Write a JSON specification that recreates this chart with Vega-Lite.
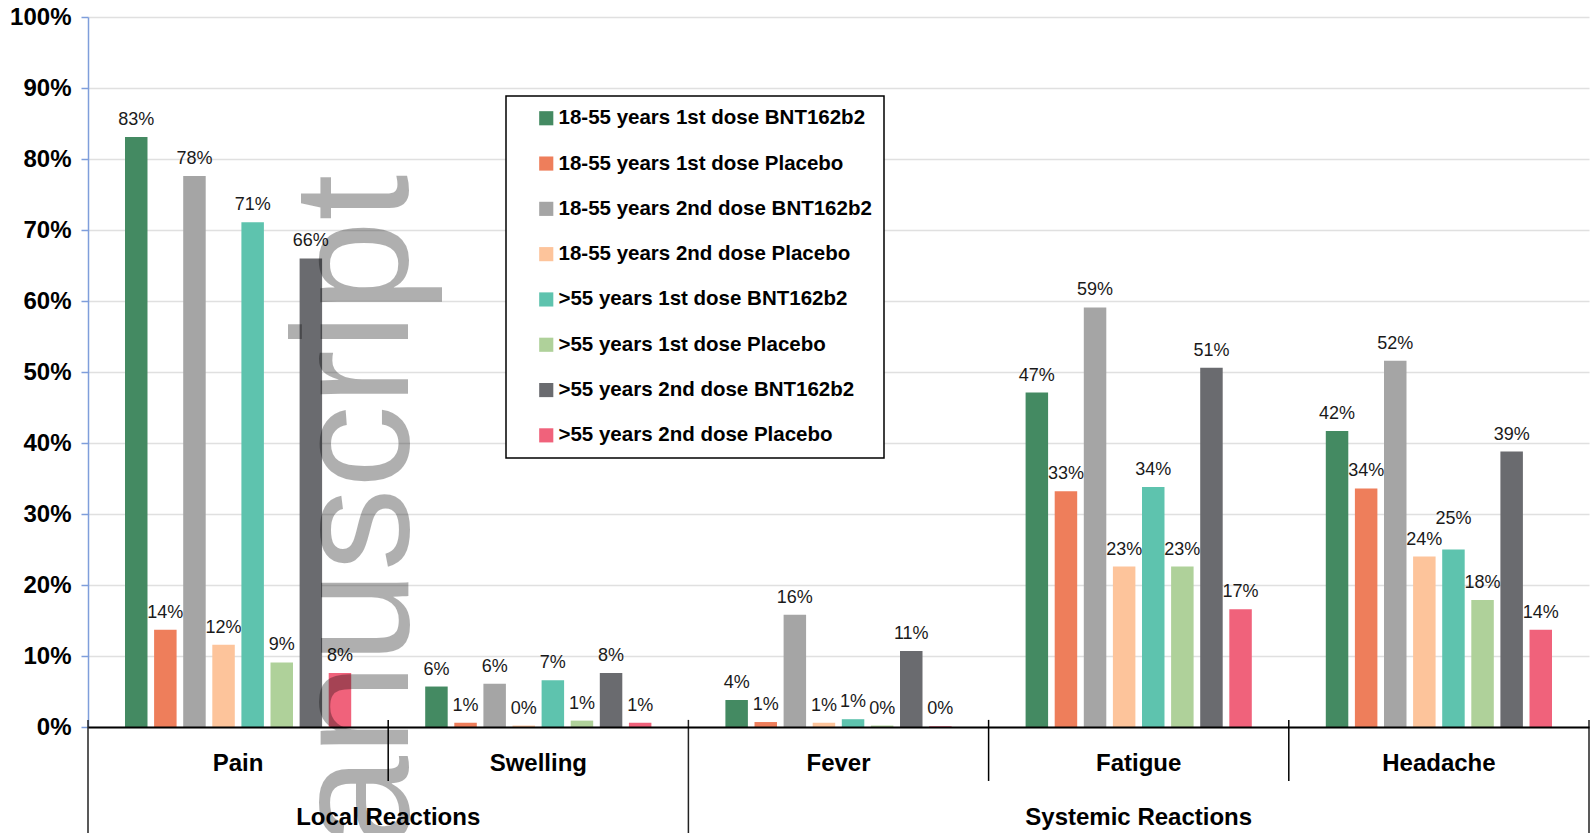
{
  "$schema": "https://vega.github.io/schema/vega-lite/v6.json",
  "width": 1501,
  "height": 710,
  "autosize": {"type": "none"},
  "padding": {"left": 88, "top": 17, "right": 2, "bottom": 106},
  "background": "white",
  "config": {
    "font": "Liberation Sans",
    "view": {"stroke": null},
    "legend": {
      "orient": "none",
      "legendX": 418,
      "legendY": 79,
      "fillColor": "white",
      "strokeColor": "black",
      "strokeWidth": 1.5,
      "padding": 12,
      "symbolOffset": 18,
      "symbolType": "square",
      "symbolSize": 200,
      "symbolStrokeWidth": 0,
      "labelFont": "Liberation Sans",
      "labelFontWeight": "bold",
      "labelFontSize": 20.5,
      "labelColor": "black",
      "labelOffset": 2,
      "labelLimit": 0,
      "rowPadding": 24.3
    }
  },
  "datasets": {
    "reactions": [
      {"symptom": "Pain", "series": "18-55 years 1st dose BNT162b2", "pct": 0.831},
      {"symptom": "Pain", "series": "18-55 years 1st dose Placebo", "pct": 0.137},
      {"symptom": "Pain", "series": "18-55 years 2nd dose BNT162b2", "pct": 0.776},
      {"symptom": "Pain", "series": "18-55 years 2nd dose Placebo", "pct": 0.116},
      {"symptom": "Pain", "series": ">55 years 1st dose BNT162b2", "pct": 0.711},
      {"symptom": "Pain", "series": ">55 years 1st dose Placebo", "pct": 0.091},
      {"symptom": "Pain", "series": ">55 years 2nd dose BNT162b2", "pct": 0.660},
      {"symptom": "Pain", "series": ">55 years 2nd dose Placebo", "pct": 0.076},
      {"symptom": "Swelling", "series": "18-55 years 1st dose BNT162b2", "pct": 0.057},
      {"symptom": "Swelling", "series": "18-55 years 1st dose Placebo", "pct": 0.006},
      {"symptom": "Swelling", "series": "18-55 years 2nd dose BNT162b2", "pct": 0.061},
      {"symptom": "Swelling", "series": "18-55 years 2nd dose Placebo", "pct": 0.002},
      {"symptom": "Swelling", "series": ">55 years 1st dose BNT162b2", "pct": 0.066},
      {"symptom": "Swelling", "series": ">55 years 1st dose Placebo", "pct": 0.009},
      {"symptom": "Swelling", "series": ">55 years 2nd dose BNT162b2", "pct": 0.076},
      {"symptom": "Swelling", "series": ">55 years 2nd dose Placebo", "pct": 0.006},
      {"symptom": "Fever", "series": "18-55 years 1st dose BNT162b2", "pct": 0.038},
      {"symptom": "Fever", "series": "18-55 years 1st dose Placebo", "pct": 0.007},
      {"symptom": "Fever", "series": "18-55 years 2nd dose BNT162b2", "pct": 0.158},
      {"symptom": "Fever", "series": "18-55 years 2nd dose Placebo", "pct": 0.006},
      {"symptom": "Fever", "series": ">55 years 1st dose BNT162b2", "pct": 0.011},
      {"symptom": "Fever", "series": ">55 years 1st dose Placebo", "pct": 0.002},
      {"symptom": "Fever", "series": ">55 years 2nd dose BNT162b2", "pct": 0.107},
      {"symptom": "Fever", "series": ">55 years 2nd dose Placebo", "pct": 0.001},
      {"symptom": "Fatigue", "series": "18-55 years 1st dose BNT162b2", "pct": 0.471},
      {"symptom": "Fatigue", "series": "18-55 years 1st dose Placebo", "pct": 0.332},
      {"symptom": "Fatigue", "series": "18-55 years 2nd dose BNT162b2", "pct": 0.591},
      {"symptom": "Fatigue", "series": "18-55 years 2nd dose Placebo", "pct": 0.226},
      {"symptom": "Fatigue", "series": ">55 years 1st dose BNT162b2", "pct": 0.338},
      {"symptom": "Fatigue", "series": ">55 years 1st dose Placebo", "pct": 0.226},
      {"symptom": "Fatigue", "series": ">55 years 2nd dose BNT162b2", "pct": 0.506},
      {"symptom": "Fatigue", "series": ">55 years 2nd dose Placebo", "pct": 0.166},
      {"symptom": "Headache", "series": "18-55 years 1st dose BNT162b2", "pct": 0.417},
      {"symptom": "Headache", "series": "18-55 years 1st dose Placebo", "pct": 0.336},
      {"symptom": "Headache", "series": "18-55 years 2nd dose BNT162b2", "pct": 0.516},
      {"symptom": "Headache", "series": "18-55 years 2nd dose Placebo", "pct": 0.240},
      {"symptom": "Headache", "series": ">55 years 1st dose BNT162b2", "pct": 0.250},
      {"symptom": "Headache", "series": ">55 years 1st dose Placebo", "pct": 0.179},
      {"symptom": "Headache", "series": ">55 years 2nd dose BNT162b2", "pct": 0.388},
      {"symptom": "Headache", "series": ">55 years 2nd dose Placebo", "pct": 0.137}
    ],
    "dividers": [
      {"edge": 0, "span": "group"},
      {"edge": 1, "span": "symptom"},
      {"edge": 2, "span": "group"},
      {"edge": 3, "span": "symptom"},
      {"edge": 4, "span": "symptom"},
      {"edge": 5, "span": "group"}
    ]
  },
  "layer": [
    {
      "data": {"name": "reactions"},
      "encoding": {
        "x": {
          "field": "symptom",
          "type": "nominal",
          "sort": ["Pain", "Swelling", "Fever", "Fatigue", "Headache"],
          "scale": {"paddingInner": 0.0526, "paddingOuter": 0.0263},
          "axis": {
            "title": null,
            "ticks": false,
            "grid": false,
            "domainColor": "black",
            "domainWidth": 2,
            "labelAngle": 0,
            "labelFont": "Liberation Sans",
            "labelFontWeight": "bold",
            "labelFontSize": 24,
            "labelColor": "black",
            "labelPadding": 24,
            "zindex": 1
          }
        },
        "xOffset": {
          "field": "series",
          "type": "nominal",
          "sort": [
            "18-55 years 1st dose BNT162b2",
            "18-55 years 1st dose Placebo",
            "18-55 years 2nd dose BNT162b2",
            "18-55 years 2nd dose Placebo",
            ">55 years 1st dose BNT162b2",
            ">55 years 1st dose Placebo",
            ">55 years 2nd dose BNT162b2",
            ">55 years 2nd dose Placebo"
          ],
          "scale": {"paddingInner": 0.227, "paddingOuter": 1}
        },
        "y": {
          "field": "pct",
          "type": "quantitative",
          "scale": {"domain": [0, 1], "nice": false},
          "axis": {
            "title": null,
            "values": [0, 0.1, 0.2, 0.3, 0.4, 0.5, 0.6, 0.7, 0.8, 0.9, 1],
            "format": ".0%",
            "domainColor": "#7f9edb",
            "domainWidth": 1.5,
            "tickColor": "#7f9edb",
            "tickWidth": 1.5,
            "tickSize": 7,
            "labelFont": "Liberation Sans",
            "labelFontWeight": "bold",
            "labelFontSize": 24,
            "labelColor": "black",
            "labelPadding": 10,
            "gridColor": "#e0e0e0",
            "gridWidth": 1.5
          }
        }
      },
      "layer": [
        {
          "mark": {"type": "bar"},
          "encoding": {
            "color": {
              "field": "series",
              "type": "nominal",
              "title": null,
              "scale": {
                "domain": [
                  "18-55 years 1st dose BNT162b2",
                  "18-55 years 1st dose Placebo",
                  "18-55 years 2nd dose BNT162b2",
                  "18-55 years 2nd dose Placebo",
                  ">55 years 1st dose BNT162b2",
                  ">55 years 1st dose Placebo",
                  ">55 years 2nd dose BNT162b2",
                  ">55 years 2nd dose Placebo"
                ],
                "range": ["#448a62", "#ee7e5b", "#a5a5a5", "#fdc49b", "#5ec3ae", "#afd19a", "#6a6b6f", "#f0627b"]
              }
            }
          }
        },
        {
          "transform": [{"filter": "!(datum.symptom === 'Headache' && datum.series === '>55 years 1st dose BNT162b2')"}],
          "mark": {"type": "text", "baseline": "alphabetic", "dy": -12, "fontSize": 18, "color": "#1a1a1a"},
          "encoding": {
            "text": {"field": "pct", "type": "quantitative", "format": ".0%"}
          }
        },
        {
          "transform": [{"filter": "datum.symptom === 'Headache' && datum.series === '>55 years 1st dose BNT162b2'"}],
          "mark": {"type": "text", "baseline": "alphabetic", "dy": -26, "fontSize": 18, "color": "#1a1a1a"},
          "encoding": {
            "text": {"field": "pct", "type": "quantitative", "format": ".0%"}
          }
        }
      ]
    },
    {
      "data": {"values": [{"word": "manuscript"}]},
      "mark": {
        "type": "text",
        "angle": 270,
        "align": "right",
        "baseline": "alphabetic",
        "font": "Liberation Sans",
        "fontSize": 166,
        "color": "black",
        "opacity": 0.31
      },
      "encoding": {
        "x": {"datum": 1.066, "type": "quantitative", "scale": {"domain": [0, 5], "nice": false, "zero": false}, "axis": null},
        "y": {"datum": 0.778, "type": "quantitative", "scale": {"domain": [0, 1], "nice": false}, "axis": null},
        "text": {"field": "word"}
      }
    },
    {
      "data": {"name": "dividers"},
      "transform": [{"filter": "datum.span === 'symptom'"}],
      "mark": {"type": "rule", "color": "black", "strokeWidth": 1.5},
      "encoding": {
        "x": {"field": "edge", "type": "quantitative", "scale": {"domain": [0, 5], "nice": false, "zero": false}, "axis": null},
        "y": {"datum": 0.01, "type": "quantitative", "scale": {"domain": [0, 1], "nice": false}, "axis": null},
        "y2": {"datum": -0.076}
      }
    },
    {
      "data": {"name": "dividers"},
      "transform": [{"filter": "datum.span === 'group'"}],
      "mark": {"type": "rule", "color": "#222222", "strokeWidth": 1.5},
      "encoding": {
        "x": {"field": "edge", "type": "quantitative", "scale": {"domain": [0, 5], "nice": false, "zero": false}, "axis": null},
        "y": {"datum": 0.01, "type": "quantitative", "scale": {"domain": [0, 1], "nice": false}, "axis": null},
        "y2": {"datum": -0.3}
      }
    },
    {
      "data": {"values": [{"group": "Local Reactions"}]},
      "mark": {"type": "text", "baseline": "middle", "font": "Liberation Sans", "fontWeight": "bold", "fontSize": 24, "color": "black"},
      "encoding": {
        "x": {"datum": 1, "type": "quantitative", "scale": {"domain": [0, 5], "nice": false, "zero": false}, "axis": null},
        "y": {"datum": -0.128, "type": "quantitative", "scale": {"domain": [0, 1], "nice": false}, "axis": null},
        "text": {"field": "group"}
      }
    },
    {
      "data": {"values": [{"group": "Systemic Reactions"}]},
      "mark": {"type": "text", "baseline": "middle", "font": "Liberation Sans", "fontWeight": "bold", "fontSize": 24, "color": "black"},
      "encoding": {
        "x": {"datum": 3.5, "type": "quantitative", "scale": {"domain": [0, 5], "nice": false, "zero": false}, "axis": null},
        "y": {"datum": -0.128, "type": "quantitative", "scale": {"domain": [0, 1], "nice": false}, "axis": null},
        "text": {"field": "group"}
      }
    }
  ],
  "resolve": {"scale": {"x": "independent", "y": "independent"}}
}
